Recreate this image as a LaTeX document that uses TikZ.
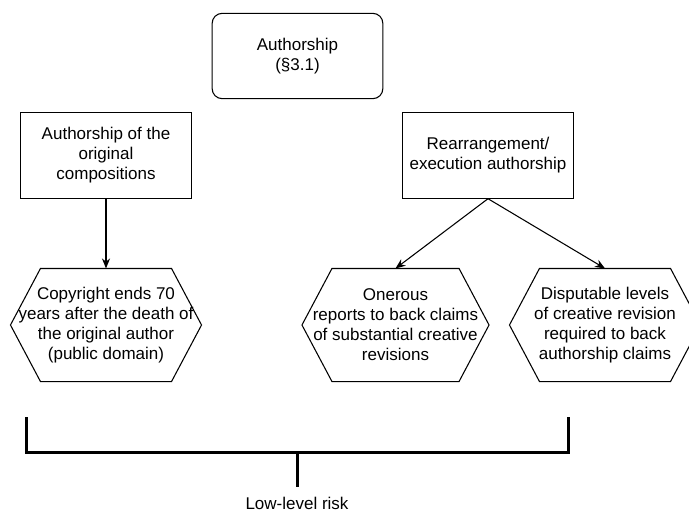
\documentclass[tikz,border=0pt]{standalone}
\usepackage{fontspec}
\setmainfont{Liberation Sans}
\usetikzlibrary{arrows.meta}
\tikzset{>={Stealth[length=7.5pt,width=6pt]}}
\tikzset{
  textbox/.style={draw, minimum width=128pt, minimum height=64pt, align=center, inner sep=2pt},
  hexbox/.style={minimum width=142.5pt, minimum height=84pt, align=center, inner sep=0pt}
}

\begin{document}
\begin{tikzpicture}[x=0.75pt, y=-0.75pt, line width=0.8pt, font=\fontsize{12.75}{15}\selectfont]
\useasboundingbox (0,0) rectangle (689,515);
% boxes
\node[textbox, rounded corners=7.5pt] (auth) at (297.5,56) {Authorship\\(§3.1)};
\node[textbox] (orig) at (106,155.5) {Authorship of the\\original\\compositions};
\node[textbox] (rearr) at (488,155.5) {Rearrangement/\\execution authorship};
% hexagons
\node[hexbox] (copy) at (106,325) {Copyright ends 70\\years after the death of\\the original author\\(public domain)};
\node[hexbox, minimum width=139.5pt] (onerous) at (395.5,325) {Onerous\\reports to back claims\\of substantial creative\\revisions};
\node[hexbox] (dispute) at (605,325) {Disputable levels\\of creative revision\\required to back\\authorship claims};
\foreach \n in {copy,onerous,dispute}
  \draw (\n.west) -- ([xshift=22.5pt]\n.north west) -- ([xshift=-22.5pt]\n.north east)
    -- (\n.east) -- ([xshift=-22.5pt]\n.south east) -- ([xshift=22.5pt]\n.south west) -- cycle;
% arrows
\draw[->] (orig) -- (copy);
\draw[->] (rearr.south) -- (onerous.north);
\draw[->] (rearr.south) -- (dispute.north);
% bracket
\coordinate (bl) at (26,417);
\coordinate (br) at (568,417);
\coordinate (stem) at (297,452);
\coordinate (stemend) at (297,487);
\draw[line width=2.25pt] (bl) |- (stem) -| (br);
\draw[line width=2.25pt] (stem) -- (stemend);
\node (risk) at (297,503) {Low-level risk};
\end{tikzpicture}
\end{document}
